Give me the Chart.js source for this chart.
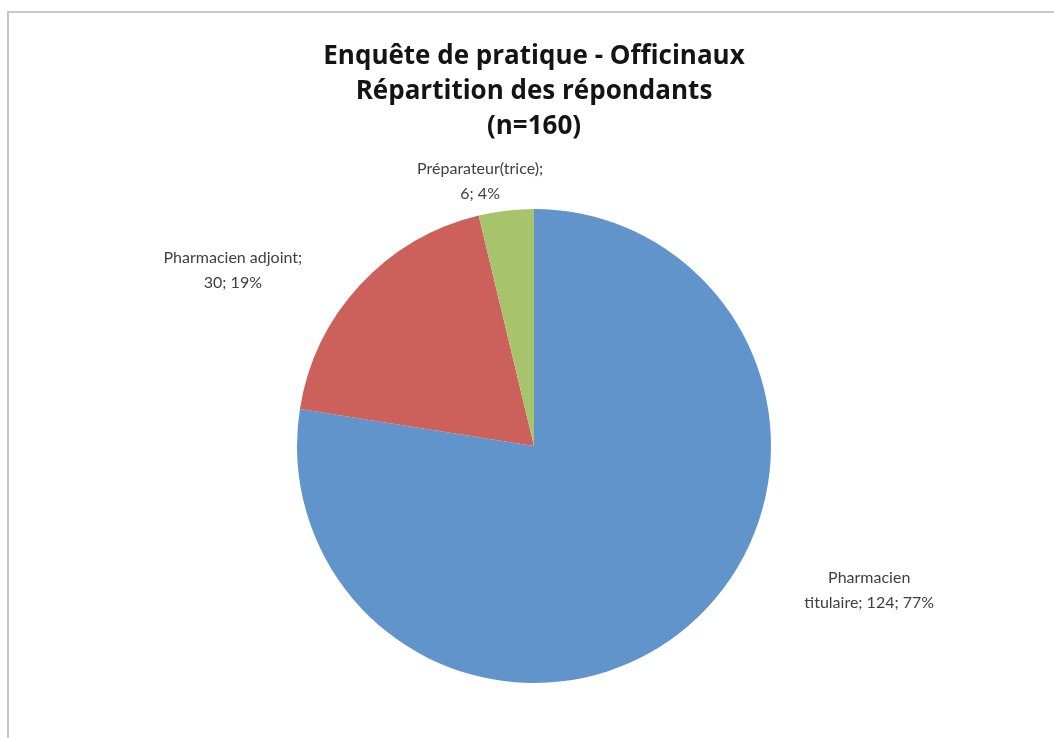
<!doctype html>
<html lang="fr">
<head>
    <meta charset="utf-8">
    <title>Enquête de pratique - Officinaux</title>
    <script src="https://cdn.jsdelivr.net/npm/chart.js"></script>
    <style>
        html, body { margin: 0; padding: 0; background: #fff; overflow: hidden; }
        #frame {
            position: absolute; left: 7px; top: 11px; width: 1100px; height: 800px;
            border: 2px solid #c9c9c9; box-sizing: border-box;
        }
        #wrap { position: absolute; left: 0; top: 0; width: 1054px; height: 738px; }
    </style>
</head>
<body>
<div id="frame"></div>
<div id="wrap">
    <canvas id="myChart" width="1054" height="738"></canvas>
</div>

<script>
    const titleLines = ['Enquête de pratique - Officinaux', 'Répartition des répondants', '(n=160)'];
    const labels = ['Pharmacien titulaire', 'Pharmacien adjoint', 'Préparateur(trice)'];
    const values = [124, 30, 6];
    const percents = [77, 19, 4];
    const colors = ['#6194ca', '#cc605a', '#a7c46c'];

    // where each label sits: angle (deg, canvas) and distance from centre as a factor of the radius
    const labelPlace = [
        {angle: 23.3, dist: 1.54, lines: ['Pharmacien', 'titulaire; 124; 77%']},
        {angle: -149.8, dist: 1.47, lines: ['Pharmacien adjoint;', '30; 19%']},
        {angle: -101.5, dist: 1.14, lines: ['Préparateur(trice);', '6; 4%']}
    ];

    const textPlugin = {
        id: 'textPlugin',
        afterDraw(chart) {
            const ctx = chart.ctx;
            ctx.save();
            ctx.textAlign = 'center';
            ctx.textBaseline = 'middle';
            ctx.fillStyle = '#141414';
            ctx.font = 'bold 26px "Open Sans"';
            titleLines.forEach(function (t, i) {
                ctx.fillText(t, 534, 57 + i * 35);
            });

            const arc = chart.getDatasetMeta(0).data[0];
            const cx = arc.x, cy = arc.y, r = arc.outerRadius;
            ctx.font = '16px Lato';
            ctx.fillStyle = '#404040';
            labelPlace.forEach(function (p) {
                const a = p.angle * Math.PI / 180;
                const x = cx + Math.cos(a) * r * p.dist;
                const y = cy + Math.sin(a) * r * p.dist;
                p.lines.forEach(function (l, i) {
                    ctx.fillText(l, x, y + (i - (p.lines.length - 1) / 2) * 25);
                });
            });
            ctx.restore();
        }
    };

    const data = {
        labels: labels,
        datasets: [{
            data: values,
            backgroundColor: colors,
            borderWidth: 0
        }]
    };

    const config = {
        type: 'pie',
        data: data,
        options: {
            responsive: false,
            animation: false,
            layout: {padding: {top: 209, bottom: 55, left: 14, right: 0}},
            plugins: {
                legend: {display: false},
                tooltip: {enabled: false},
                title: {display: false}
            }
        },
        plugins: [textPlugin]
    };

    const myChart = new Chart(document.getElementById('myChart'), config);
</script>
</body>
</html>
